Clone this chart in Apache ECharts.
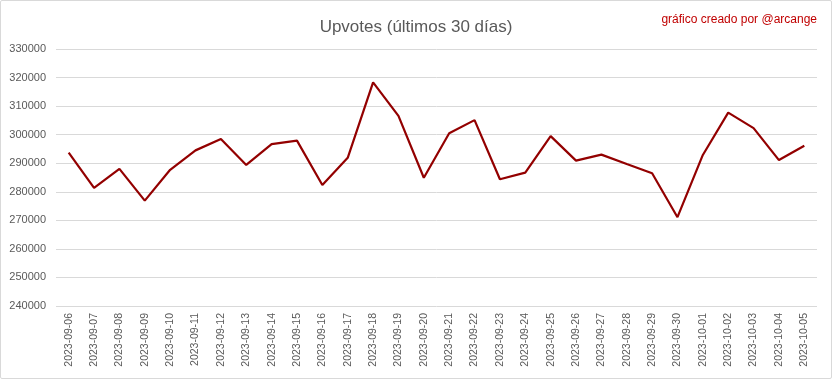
<!DOCTYPE html>
<html><head><meta charset="utf-8">
<script src="https://cdn.jsdelivr.net/npm/echarts@6/dist/echarts.min.js"></script>
<style>
html,body{margin:0;padding:0;background:#fff;}
#c{position:absolute;left:0;top:0;width:830px;height:377px;border:1px solid #d9d9d9;border-radius:2px;}
</style></head>
<body><div id="c"></div>
<script>
const categories = ["2023-09-06","2023-09-07","2023-09-08","2023-09-09","2023-09-10","2023-09-11","2023-09-12","2023-09-13","2023-09-14","2023-09-15","2023-09-16","2023-09-17","2023-09-18","2023-09-19","2023-09-20","2023-09-21","2023-09-22","2023-09-23","2023-09-24","2023-09-25","2023-09-26","2023-09-27","2023-09-28","2023-09-29","2023-09-30","2023-10-01","2023-10-02","2023-10-03","2023-10-04","2023-10-05"];
const upvotes = [293700,281400,288000,276900,287700,294500,298500,289400,296700,297900,282400,291900,318300,306600,284900,300500,305100,284400,286700,299500,290900,293000,289700,286500,271100,292900,307700,302300,291100,296100];
const yMin = 240000, yMax = 330000, yStep = 10000;
const titleText = "Upvotes (últimos 30 días)";
const creditText = "gráfico creado por @arcange";

const chart = echarts.init(document.getElementById('c'), null, {renderer:'canvas'});
chart.setOption({
  animation:false,
  title:[
    {text:titleText,left:'center',top:13,textStyle:{fontFamily:'Liberation Sans, sans-serif',fontSize:17,fontWeight:'normal',color:'#595959'}},
    {text:creditText,right:9,top:8,textStyle:{fontFamily:'Liberation Sans, sans-serif',fontSize:12,fontWeight:'normal',color:'#c00000'}}
  ],
  grid:{left:55,right:14,top:48,bottom:72,containLabel:false},
  xAxis:{type:'category',data:categories,boundaryGap:true,
    axisLine:{show:false},axisTick:{show:false},
    axisLabel:{rotate:90,interval:0,fontSize:10.5,color:'#595959',fontFamily:'Liberation Sans, sans-serif',margin:7}},
  yAxis:{type:'value',min:yMin,max:yMax,interval:yStep,
    axisLine:{show:false},axisTick:{show:false},
    splitLine:{lineStyle:{color:'#d9d9d9',width:1}},
    axisLabel:{fontSize:11,color:'#595959',fontFamily:'Liberation Sans, sans-serif',margin:10,formatter:function(v){return String(v);}}},
  series:[{type:'line',data:upvotes,symbol:'none',lineStyle:{color:'#930000',width:2.2},itemStyle:{color:'#930000'}}]
});
</script></body></html>
